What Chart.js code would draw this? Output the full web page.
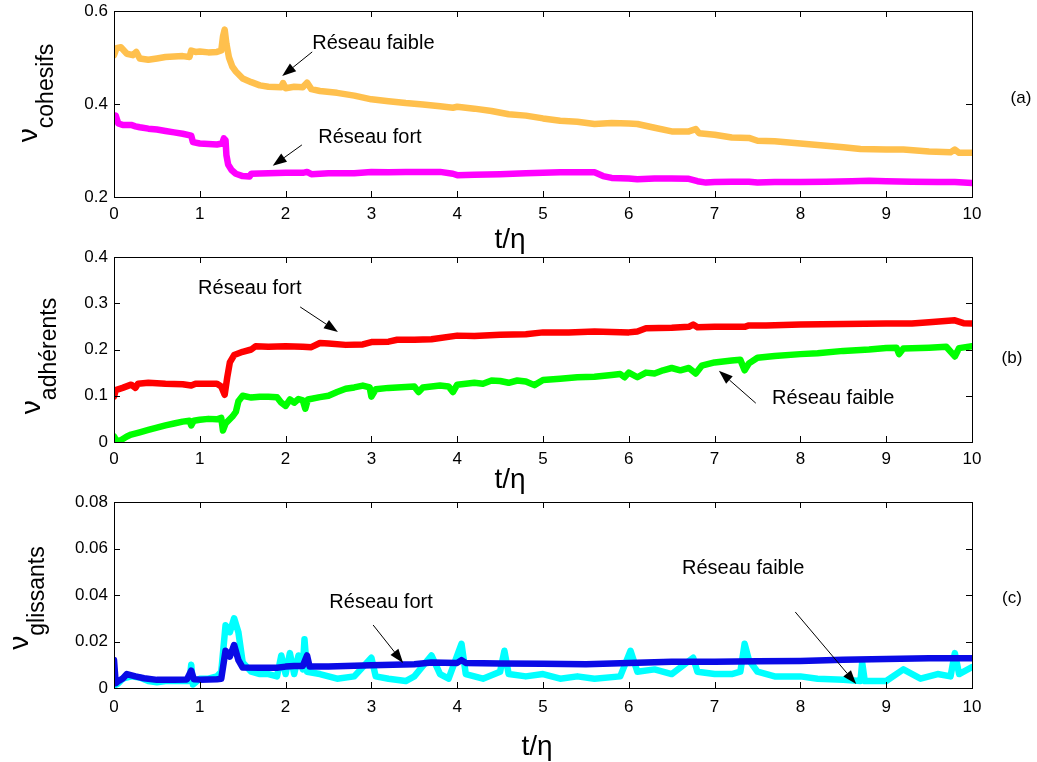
<!DOCTYPE html>
<html>
<head>
<meta charset="utf-8">
<script src="https://cdn.jsdelivr.net/npm/chart.js@4.4.1/dist/chart.umd.min.js"></script>
<style>
    body { margin: 0; background: #fff; }
    canvas { position: absolute; left: 0; }
</style>
</head>
<body>
<canvas id="chartA" width="1037" height="257" style="top:0px"></canvas>
<canvas id="chartB" width="1037" height="257" style="top:245px"></canvas>
<canvas id="chartC" width="1037" height="272" style="top:490px"></canvas>
<script>
// t/eta axis ticks
const xTicks = [0, 1, 2, 3, 4, 5, 6, 7, 8, 9, 10];
const yTicksA = [0.2, 0.4, 0.6];
const yTicksB = [0, 0.1, 0.2, 0.3, 0.4];
const yTicksC = [0, 0.02, 0.04, 0.06, 0.08];

// (a) cohesifs : [t/eta, value]
const cohesifsFaible = [[0,0.505],[0.03,0.52],[0.08,0.522],[0.15,0.508],[0.22,0.505],[0.26,0.512],[0.3,0.498],[0.4,0.495],[0.5,0.498],[0.6,0.501],[0.7,0.502],[0.8,0.503],[0.88,0.501],[0.9,0.515],[0.95,0.512],[1.0,0.513],[1.1,0.511],[1.2,0.512],[1.25,0.515],[1.27,0.545],[1.29,0.56],[1.31,0.53],[1.34,0.5],[1.38,0.48],[1.42,0.47],[1.5,0.455],[1.6,0.447],[1.7,0.44],[1.8,0.437],[1.95,0.436],[1.97,0.445],[2.0,0.434],[2.1,0.437],[2.2,0.436],[2.25,0.446],[2.3,0.432],[2.4,0.428],[2.6,0.424],[2.8,0.418],[3.0,0.41],[3.2,0.406],[3.4,0.402],[3.6,0.399],[3.8,0.395],[3.95,0.392],[4.0,0.394],[4.2,0.39],[4.4,0.385],[4.6,0.378],[4.8,0.375],[5.0,0.369],[5.2,0.364],[5.4,0.362],[5.6,0.357],[5.8,0.359],[6.0,0.358],[6.1,0.357],[6.3,0.349],[6.5,0.341],[6.7,0.341],[6.78,0.346],[6.82,0.337],[7.0,0.334],[7.2,0.328],[7.4,0.327],[7.5,0.321],[7.7,0.32],[8.0,0.315],[8.2,0.312],[8.5,0.307],[8.7,0.303],[9.0,0.302],[9.2,0.302],[9.5,0.298],[9.75,0.296],[9.8,0.302],[9.85,0.295],[10,0.295]];
const cohesifsFort = [[0,0.37],[0.02,0.375],[0.05,0.358],[0.1,0.355],[0.2,0.355],[0.25,0.352],[0.3,0.35],[0.4,0.347],[0.5,0.345],[0.6,0.342],[0.7,0.339],[0.8,0.336],[0.9,0.332],[0.92,0.318],[1.0,0.315],[1.1,0.314],[1.2,0.313],[1.26,0.315],[1.28,0.326],[1.3,0.322],[1.31,0.29],[1.33,0.27],[1.37,0.258],[1.42,0.25],[1.5,0.245],[1.58,0.244],[1.6,0.25],[1.8,0.251],[2.0,0.252],[2.2,0.252],[2.25,0.254],[2.3,0.249],[2.5,0.251],[2.8,0.251],[3.0,0.254],[3.2,0.253],[3.4,0.254],[3.6,0.254],[3.8,0.254],[3.95,0.25],[4.0,0.247],[4.2,0.248],[4.5,0.249],[4.8,0.251],[5.0,0.252],[5.2,0.253],[5.5,0.253],[5.6,0.253],[5.7,0.245],[5.8,0.241],[6.0,0.24],[6.1,0.238],[6.3,0.24],[6.5,0.24],[6.7,0.239],[6.8,0.234],[6.9,0.231],[7.0,0.232],[7.2,0.233],[7.4,0.233],[7.5,0.231],[7.7,0.232],[8.0,0.232],[8.3,0.233],[8.6,0.234],[8.8,0.235],[9.0,0.234],[9.3,0.233],[9.6,0.232],[9.8,0.232],[10,0.23]];

// (b) adherents
const adherentsFort = [[0,0.098],[0.02,0.112],[0.1,0.117],[0.2,0.124],[0.25,0.117],[0.28,0.126],[0.4,0.128],[0.6,0.126],[0.8,0.125],[0.9,0.122],[0.95,0.126],[1.1,0.126],[1.2,0.126],[1.25,0.12],[1.29,0.102],[1.32,0.14],[1.35,0.172],[1.4,0.188],[1.5,0.195],[1.6,0.2],[1.65,0.207],[1.8,0.206],[2.0,0.207],[2.2,0.206],[2.3,0.205],[2.4,0.214],[2.5,0.213],[2.7,0.21],[2.9,0.211],[3.0,0.216],[3.2,0.217],[3.3,0.221],[3.5,0.221],[3.7,0.222],[4.0,0.23],[4.2,0.229],[4.5,0.232],[4.8,0.233],[5.0,0.237],[5.3,0.237],[5.6,0.239],[6.0,0.237],[6.1,0.239],[6.2,0.246],[6.5,0.247],[6.7,0.249],[6.75,0.254],[6.8,0.248],[7.0,0.249],[7.35,0.249],[7.4,0.252],[7.6,0.252],[8.0,0.254],[8.5,0.255],[9.0,0.256],[9.3,0.256],[9.5,0.259],[9.8,0.263],[9.9,0.257],[10,0.256]];
const adherentsFaible = [[0,0.012],[0.03,0.002],[0.08,0.004],[0.15,0.012],[0.2,0.016],[0.3,0.021],[0.4,0.026],[0.5,0.031],[0.6,0.036],[0.7,0.04],[0.8,0.044],[0.88,0.046],[0.9,0.036],[0.93,0.046],[1.0,0.048],[1.1,0.05],[1.2,0.049],[1.25,0.052],[1.27,0.025],[1.3,0.04],[1.38,0.055],[1.42,0.065],[1.45,0.088],[1.5,0.1],[1.6,0.096],[1.7,0.098],[1.8,0.098],[1.9,0.097],[1.95,0.085],[2.0,0.078],[2.05,0.092],[2.1,0.085],[2.15,0.093],[2.2,0.09],[2.23,0.072],[2.26,0.092],[2.4,0.097],[2.5,0.1],[2.6,0.108],[2.7,0.115],[2.8,0.118],[2.9,0.122],[2.98,0.118],[3.0,0.098],[3.05,0.114],[3.2,0.117],[3.4,0.119],[3.5,0.12],[3.55,0.108],[3.6,0.118],[3.8,0.122],[3.9,0.12],[3.95,0.108],[4.0,0.124],[4.2,0.128],[4.3,0.126],[4.4,0.133],[4.5,0.132],[4.6,0.128],[4.7,0.133],[4.8,0.131],[4.9,0.123],[5.0,0.134],[5.2,0.137],[5.4,0.14],[5.6,0.141],[5.8,0.145],[5.9,0.147],[5.95,0.14],[6.0,0.15],[6.1,0.14],[6.2,0.15],[6.3,0.148],[6.4,0.155],[6.5,0.16],[6.6,0.155],[6.7,0.16],[6.78,0.148],[6.85,0.165],[7.0,0.172],[7.2,0.176],[7.3,0.178],[7.35,0.155],[7.4,0.17],[7.5,0.182],[7.7,0.186],[8.0,0.19],[8.2,0.192],[8.5,0.197],[8.8,0.2],[9.0,0.203],[9.12,0.204],[9.15,0.19],[9.2,0.202],[9.5,0.204],[9.7,0.206],[9.8,0.185],[9.85,0.203],[10,0.207]];

// (c) glissants
const glissantsFort = [[0,0.012],[0.02,0.002],[0.05,0.003],[0.1,0.004],[0.15,0.006],[0.25,0.005],[0.35,0.0042],[0.5,0.0035],[0.7,0.0035],[0.85,0.0037],[0.9,0.0075],[0.93,0.0038],[1.0,0.0036],[1.2,0.0038],[1.25,0.004],[1.3,0.016],[1.35,0.0135],[1.4,0.0185],[1.45,0.012],[1.5,0.0088],[1.7,0.0087],[1.9,0.0087],[2.0,0.0092],[2.1,0.0095],[2.2,0.0095],[2.25,0.014],[2.28,0.0092],[2.5,0.0093],[3.0,0.0098],[3.5,0.0102],[3.7,0.011],[4.0,0.0108],[4.05,0.012],[4.1,0.0108],[4.5,0.0105],[5.0,0.0104],[5.5,0.0102],[6.0,0.0107],[6.5,0.0113],[7.0,0.0113],[7.5,0.0115],[8.0,0.0116],[8.5,0.0121],[9.0,0.0125],[9.5,0.0128],[10,0.0128]];
const glissantsFaible = [[0,0.001],[0.05,0.002],[0.1,0.004],[0.2,0.005],[0.3,0.0045],[0.4,0.003],[0.5,0.0025],[0.6,0.003],[0.8,0.003],[0.88,0.003],[0.9,0.01],[0.92,0.0015],[1.0,0.004],[1.1,0.004],[1.2,0.005],[1.25,0.007],[1.3,0.027],[1.35,0.024],[1.4,0.03],[1.45,0.024],[1.5,0.011],[1.6,0.007],[1.7,0.006],[1.8,0.006],[1.9,0.005],[1.95,0.014],[2.0,0.006],[2.05,0.015],[2.1,0.006],[2.15,0.014],[2.2,0.008],[2.22,0.021],[2.25,0.007],[2.4,0.006],[2.6,0.004],[2.8,0.005],[3.0,0.013],[3.05,0.005],[3.2,0.004],[3.4,0.003],[3.5,0.005],[3.7,0.014],[3.8,0.006],[3.9,0.004],[4.05,0.019],[4.1,0.006],[4.3,0.004],[4.5,0.007],[4.55,0.016],[4.6,0.006],[4.8,0.005],[5.0,0.006],[5.2,0.004],[5.4,0.005],[5.6,0.004],[5.9,0.005],[6.02,0.016],[6.1,0.007],[6.3,0.008],[6.5,0.006],[6.75,0.013],[6.8,0.007],[7.0,0.006],[7.2,0.006],[7.3,0.007],[7.35,0.019],[7.4,0.012],[7.5,0.007],[7.7,0.005],[8.0,0.005],[8.2,0.004],[8.5,0.0035],[8.7,0.003],[8.72,0.011],[8.75,0.003],[9.0,0.003],[9.2,0.008],[9.4,0.004],[9.6,0.006],[9.75,0.005],[9.8,0.015],[9.85,0.006],[10,0.009]];

const FONT = '"Liberation Sans", Arial, Helvetica, sans-serif';

function toXY(pairs) {
    return pairs.map(p => ({x: p[0], y: p[1]}));
}

function drawArrow(ctx, x1, y1, x2, y2) {
    const ang = Math.atan2(y2 - y1, x2 - x1);
    const len = 14, half = 5;
    const bx = x2 - Math.cos(ang) * len, by = y2 - Math.sin(ang) * len;
    ctx.beginPath();
    ctx.moveTo(x1, y1);
    ctx.lineTo(bx, by);
    ctx.stroke();
    ctx.beginPath();
    ctx.moveTo(x2, y2);
    ctx.lineTo(bx + Math.sin(ang) * half, by - Math.cos(ang) * half);
    ctx.lineTo(bx - Math.sin(ang) * half, by + Math.cos(ang) * half);
    ctx.closePath();
    ctx.fill();
}

// frame, inward ticks, axis titles, notes
const decorations = {
    id: 'decorations',
    afterDatasetsDraw(chart, args, opts) {
        const ctx = chart.ctx;
        const a = chart.chartArea;
        const xs = chart.scales.x, ys = chart.scales.y;
        ctx.save();
        ctx.strokeStyle = '#000';
        ctx.fillStyle = '#000';
        ctx.lineWidth = 1;
        ctx.strokeRect(Math.round(a.left) + 0.5, Math.round(a.top) + 0.5,
            Math.round(a.right - a.left), Math.round(a.bottom - a.top));

        const tl = 6;
        ctx.beginPath();
        xTicks.forEach(v => {
            const px = Math.round(xs.getPixelForValue(v)) + 0.5;
            ctx.moveTo(px, a.bottom); ctx.lineTo(px, a.bottom - tl);
            ctx.moveTo(px, a.top); ctx.lineTo(px, a.top + tl);
        });
        opts.yTicks.forEach(v => {
            const py = Math.round(ys.getPixelForValue(v)) + 0.5;
            ctx.moveTo(a.left, py); ctx.lineTo(a.left + tl, py);
            ctx.moveTo(a.right, py); ctx.lineTo(a.right - tl, py);
        });
        ctx.stroke();

        // x title
        ctx.font = '28px ' + FONT;
        ctx.textAlign = 'center';
        ctx.textBaseline = 'alphabetic';
        ctx.fillText('t/\u03b7', opts.xTitle[0], opts.xTitle[1]);

        // y title: nu with subscript
        ctx.save();
        ctx.translate(opts.yTitle[0], opts.yTitle[1]);
        ctx.rotate(-Math.PI / 2);
        ctx.textAlign = 'left';
        ctx.font = '28px ' + FONT;
        const w1 = ctx.measureText('\u03bd').width;
        ctx.font = '23px ' + FONT;
        const w2 = ctx.measureText(opts.sub).width;
        const start = -(w1 + w2) / 2;
        ctx.font = '28px ' + FONT;
        ctx.fillText('\u03bd', start, 0);
        ctx.font = '23px ' + FONT;
        ctx.fillText(opts.sub, start + w1, 16);
        ctx.restore();

        // panel letter
        ctx.font = '17px ' + FONT;
        ctx.textAlign = 'center';
        ctx.textBaseline = 'middle';
        ctx.fillText(opts.letter[0], opts.letter[1], opts.letter[2]);

        // notes with arrows
        ctx.font = '20px ' + FONT;
        ctx.textAlign = 'left';
        ctx.textBaseline = 'middle';
        opts.notes.forEach(n => {
            ctx.fillText(n.text, xs.getPixelForValue(n.at[0]), ys.getPixelForValue(n.at[1]));
            drawArrow(ctx,
                xs.getPixelForValue(n.from[0]), ys.getPixelForValue(n.from[1]),
                xs.getPixelForValue(n.to[0]), ys.getPixelForValue(n.to[1]));
        });
        ctx.restore();
    }
};

function makePanel(id, panel) {
    const canvas = document.getElementById(id);
    return new Chart(canvas, {
        type: 'line',
        data: {
            datasets: panel.series.map(s => ({
                data: toXY(s.data),
                borderColor: s.color,
                borderWidth: 6.5,
                borderJoinStyle: 'round',
                borderCapStyle: 'round',
                pointRadius: 0,
                tension: 0,
                fill: false,
                clip: 0
            }))
        },
        options: {
            responsive: false,
            animation: false,
            layout: {padding: {left: 0, right: 65, top: panel.top, bottom: 0}},
            scales: {
                x: {
                    type: 'linear',
                    min: 0, max: 10,
                    afterBuildTicks: s => { s.ticks = xTicks.map(v => ({value: v})); },
                    afterFit: s => {
                        s.height = canvas.height - panel.bottom;
                        s.paddingLeft = 0; s.paddingRight = 0;
                    },
                    grid: {display: false, drawTicks: false},
                    border: {display: false},
                    ticks: {
                        color: '#000',
                        font: {family: FONT, size: 17},
                        padding: panel.xPad,
                        maxRotation: 0,
                        callback: v => String(v)
                    }
                },
                y: {
                    type: 'linear',
                    min: panel.yTicks[0], max: panel.yTicks[panel.yTicks.length - 1],
                    afterBuildTicks: s => { s.ticks = panel.yTicks.map(v => ({value: v})); },
                    afterFit: s => {
                        s.width = 114;
                        s.paddingTop = 0; s.paddingBottom = 0;
                    },
                    grid: {display: false, drawTicks: false},
                    border: {display: false},
                    ticks: {
                        color: '#000',
                        font: {family: FONT, size: 17},
                        padding: 6,
                        callback: v => String(v)
                    }
                }
            },
            plugins: {
                legend: {display: false},
                tooltip: {enabled: false},
                decorations: {
                    yTicks: panel.yTicks,
                    xTitle: panel.xTitle,
                    yTitle: panel.yTitle,
                    sub: panel.sub,
                    letter: panel.letter,
                    notes: panel.notes
                }
            }
        },
        plugins: [decorations]
    });
}

document.addEventListener('DOMContentLoaded', function () {
    // (a) cohesifs
    makePanel('chartA', {
        top: 11, bottom: 197, xPad: 7,
        yTicks: yTicksA,
        series: [
            {data: cohesifsFaible, color: '#ffc04d'},
            {data: cohesifsFort, color: '#ff00ff'}
        ],
        xTitle: [510, 248],
        yTitle: [37, 93],
        sub: 'cohesifs',
        letter: ['(a)', 1021, 98],
        notes: [
            {text: 'Réseau faible', at: [2.31, 0.531], from: [2.31, 0.512], to: [1.96, 0.46]},
            {text: 'Réseau fort', at: [2.38, 0.329], from: [2.19, 0.312], to: [1.85, 0.267]}
        ]
    });

    // (b) adherents
    makePanel('chartB', {
        top: 12, bottom: 197, xPad: 7,
        yTicks: yTicksB,
        series: [
            {data: adherentsFort, color: '#ff0000'},
            {data: adherentsFaible, color: '#00ff00'}
        ],
        xTitle: [510, 243],
        yTitle: [40, 111],
        sub: 'adhérents',
        letter: ['(b)', 1012, 113],
        notes: [
            {text: 'Réseau fort', at: [0.98, 0.333], from: [2.17, 0.292], to: [2.61, 0.238]},
            {text: 'Réseau faible', at: [7.67, 0.095], from: [7.48, 0.084], to: [7.05, 0.154]}
        ]
    });

    // (c) glissants - dark blue drawn on top of cyan
    makePanel('chartC', {
        top: 12, bottom: 198, xPad: 9,
        yTicks: yTicksC,
        series: [
            {data: glissantsFort, color: '#0a0ae6'},
            {data: glissantsFaible, color: '#00ffff'}
        ],
        xTitle: [537, 265],
        yTitle: [28, 108],
        sub: 'glissants',
        letter: ['(c)', 1012, 108],
        notes: [
            {text: 'Réseau fort', at: [2.51, 0.0366], from: [3.02, 0.0271], to: [3.37, 0.0108]},
            {text: 'Réseau faible', at: [6.62, 0.0516], from: [7.94, 0.0327], to: [8.65, 0.0017]}
        ]
    });
});
</script>
</body>
</html>
